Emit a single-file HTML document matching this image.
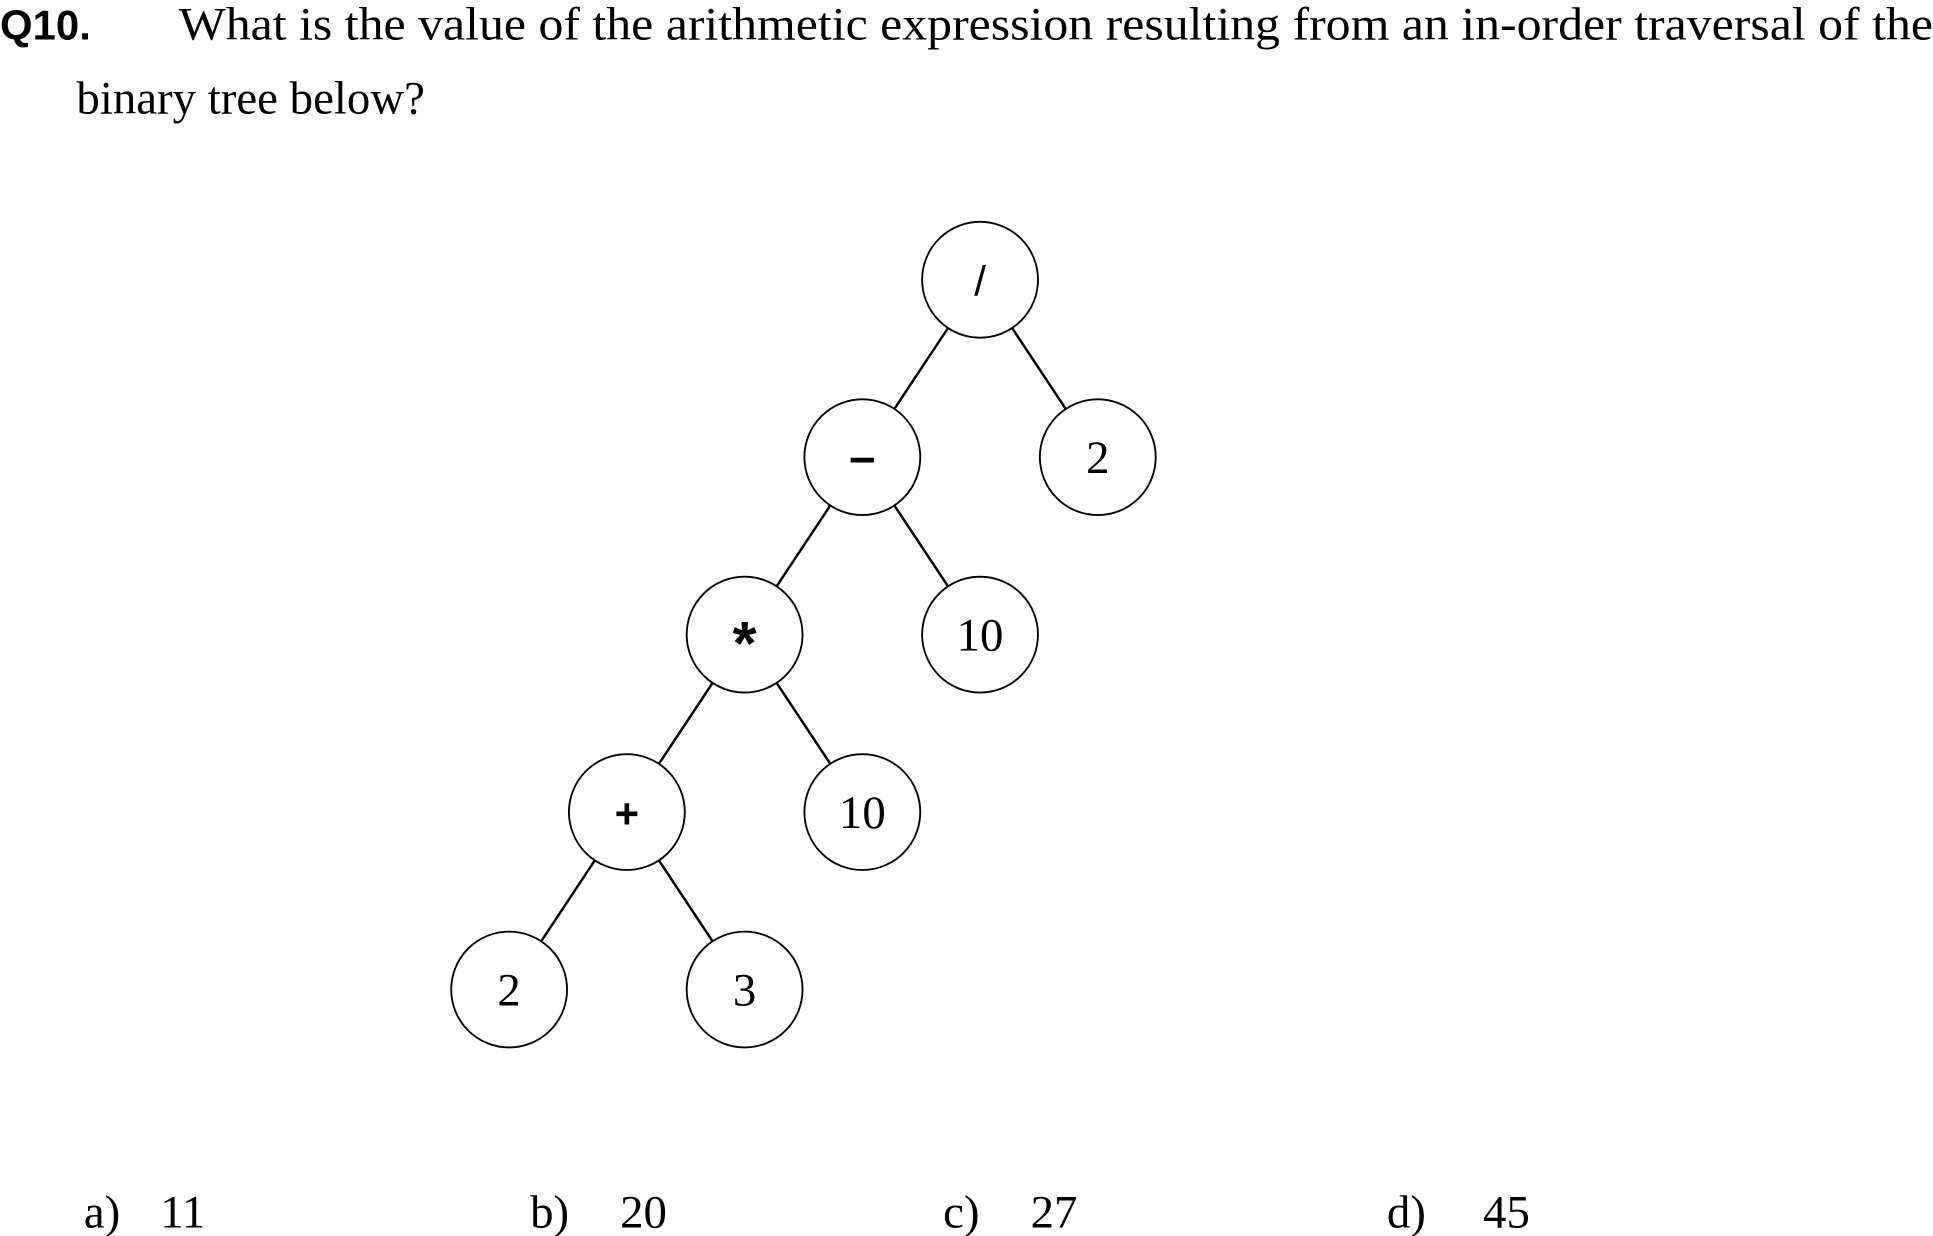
<!DOCTYPE html>
<html><head><meta charset="utf-8"><style>
html,body{margin:0;padding:0;background:#fff;}
svg{display:block;}
</style></head><body>
<svg width="1933" height="1236" viewBox="0 0 1568 1003" preserveAspectRatio="none" xmlns="http://www.w3.org/2000/svg">
<text x="0" y="32" font-family="Liberation Sans, sans-serif" font-weight="bold" font-size="34">Q10.</text>
<text x="145" y="32" font-family="Liberation Serif, serif" font-size="38" textLength="1423" lengthAdjust="spacingAndGlyphs">What is the value of the arithmetic expression resulting from an in-order traversal of the</text>
<text x="62" y="92" font-family="Liberation Serif, serif" font-size="38">binary tree below?</text>
<g id="tree"></g>
<g font-family="Liberation Serif, serif" font-size="38">
<text x="68" y="996">a)</text><text x="130" y="996">11</text>
<text x="430" y="996">b)</text><text x="503" y="996">20</text>
<text x="765" y="996">c)</text><text x="836" y="996">27</text>
<text x="1125" y="996">d)</text><text x="1203" y="996">45</text>
</g>
</svg>
<script>
const labels = ['/', '–', '2', '*', '10', '+', '10', '2', '3'];
const parents = [-1, 0, 0, 1, 1, 3, 3, 5, 5];
const depths = [0, 1, 1, 2, 2, 3, 3, 4, 4];
const cols = [0, -1, 1, -2, 0, -3, -1, -4, -2];
const ops = [true, true, false, true, false, true, false, false, false];
const X0 = 795, Y0 = 227, DX = 95.5, DY = 144, R = 47;
const ns = 'http://www.w3.org/2000/svg';
const g = document.getElementById('tree');
const px = i => X0 + cols[i] * DX, py = i => Y0 + depths[i] * DY;
for (let i = 0; i < labels.length; i++) {
  const p = parents[i];
  if (p < 0) continue;
  const x1 = px(p), y1 = py(p), x2 = px(i), y2 = py(i);
  const d = Math.hypot(x2 - x1, y2 - y1), ux = (x2 - x1) / d, uy = (y2 - y1) / d;
  const l = document.createElementNS(ns, 'line');
  
  
  l.setAttribute('x1', x1 + ux * R); l.setAttribute('y1', y1 + uy * R);
  l.setAttribute('x2', x2 - ux * R); l.setAttribute('y2', y2 - uy * R);
  l.setAttribute('stroke', '#000'); l.setAttribute('stroke-width', '2');
  g.appendChild(l);
}
for (let i = 0; i < labels.length; i++) {
  const c = document.createElementNS(ns, 'circle');
  
  
  c.setAttribute('cx', px(i)); c.setAttribute('cy', py(i)); c.setAttribute('r', R);
  c.setAttribute('fill', '#fff'); c.setAttribute('stroke', '#000'); c.setAttribute('stroke-width', '1.5');
  g.appendChild(c);
  const t = document.createElementNS(ns, 'text');
  
  
  t.setAttribute('x', px(i)); t.setAttribute('y', py(i) + 13);
  t.setAttribute('text-anchor', 'middle');
  if (ops[i]) {
    t.setAttribute('font-family', 'Liberation Sans, sans-serif');
    const lab = labels[i];
    if (lab === '/') {
      t.setAttribute('font-size', '34');
    } else if (lab === '*') {
      t.setAttribute('font-weight', 'bold');
      t.setAttribute('font-size', '50');
      t.setAttribute('y', py(i) + 24);
    } else if (lab === '–') {
      t.setAttribute('font-weight', 'bold');
      t.setAttribute('font-size', '38');
    } else {
      t.setAttribute('font-weight', 'bold');
      t.setAttribute('font-size', '34');
    }
  } else {
    t.setAttribute('font-family', 'Liberation Serif, serif');
    t.setAttribute('font-size', '38');
  }
  t.textContent = labels[i];
  g.appendChild(t);
}
</script>
</body></html>
